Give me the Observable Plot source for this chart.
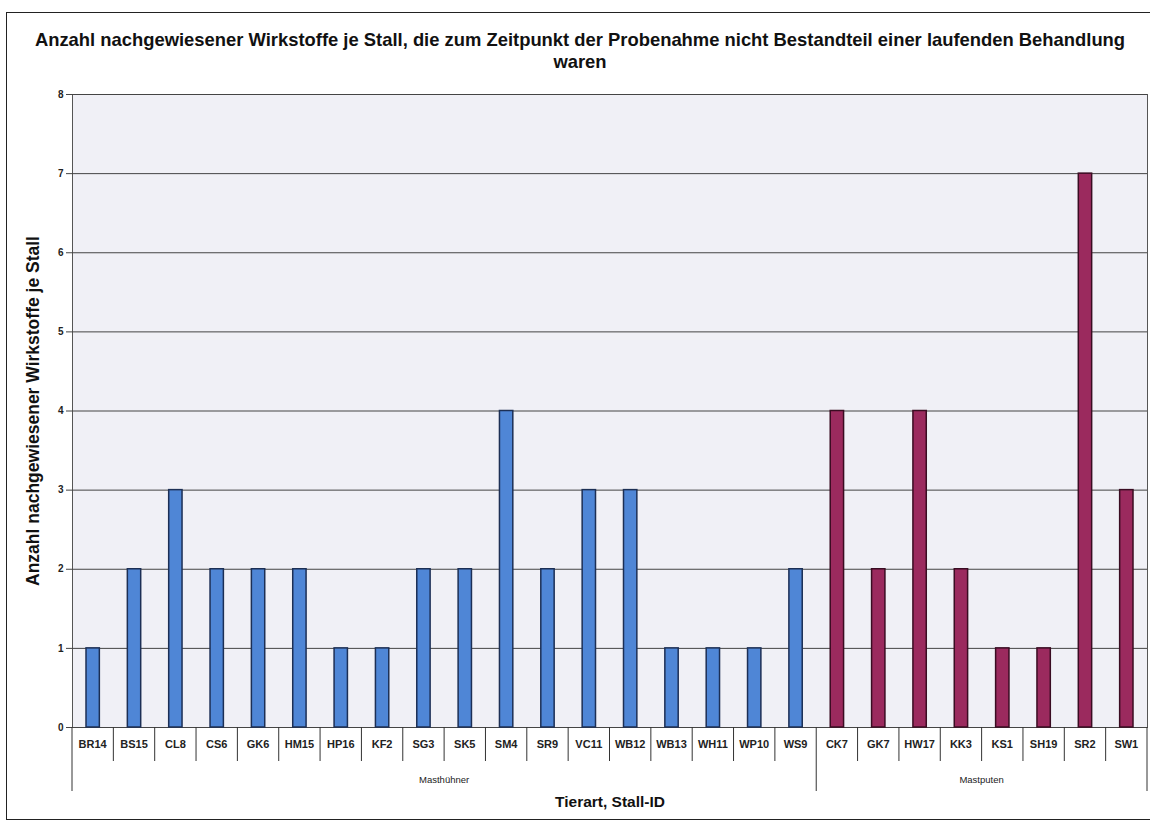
<!DOCTYPE html>
<html>
<head>
<meta charset="utf-8">
<script src="https://cdn.jsdelivr.net/npm/d3@7"></script>
<script src="https://cdn.jsdelivr.net/npm/@observablehq/plot@0.6"></script>
<style>
  html, body { margin: 0; padding: 0; background: #fff; }
  #wrap { position: relative; width: 1150px; height: 827px; overflow: hidden; font-family: "Liberation Sans", Arial, sans-serif; }
  #frame { position: absolute; left: 6px; top: 12px; width: 1160px; height: 808px; border: 1.5px solid #222; box-sizing: border-box; }
  #title { position: absolute; left: 10px; top: 29px; width: 1140px; text-align: center; font-weight: bold; font-size: 18.4px; line-height: 22px; color: #111; white-space: nowrap; }
  #chart { position: absolute; left: 0; top: 80px; }
</style>
</head>
<body>
<div id="wrap">
  <div id="frame"></div>
  <div id="title">Anzahl nachgewiesener Wirkstoffe je Stall, die zum Zeitpunkt der Probenahme nicht Bestandteil einer laufenden Behandlung<br>waren</div>
  <div id="chart"></div>
</div>
<script>
const stalls = ["BR14","BS15","CL8","CS6","GK6","HM15","HP16","KF2","SG3","SK5","SM4","SR9","VC11","WB12","WB13","WH11","WP10","WS9",
                "CK7","GK7","HW17","KK3","KS1","SH19","SR2","SW1"];
const counts = [1,2,3,2,2,2,1,1,2,2,4,2,3,3,1,1,1,2,
                4,2,4,2,1,1,7,3];
const species = ["Masthühner","Masthühner","Masthühner","Masthühner","Masthühner","Masthühner","Masthühner","Masthühner","Masthühner",
                 "Masthühner","Masthühner","Masthühner","Masthühner","Masthühner","Masthühner","Masthühner","Masthühner","Masthühner",
                 "Mastputen","Mastputen","Mastputen","Mastputen","Mastputen","Mastputen","Mastputen","Mastputen"];
const groups = ["Masthühner","Mastputen"];
const yTicks = [0,1,2,3,4,5,6,7,8];

const data = stalls.map((s, i) => ({stall: s, count: counts[i], species: species[i]}));

function bottomAxis(index, scales, values, dims) {
  const x = scales.x;
  const step = x(stalls[1]) - x(stalls[0]);
  const y0 = dims.height - dims.marginBottom;
  const g = d3.create("svg:g")
    .attr("font-family", "'Liberation Sans', Arial, sans-serif")
    .attr("fill", "#222");
  const left0 = x(stalls[0]);
  stalls.forEach((s, i) => {
    g.append("text")
      .attr("x", left0 + (i + 0.5) * step)
      .attr("y", y0 + 18)
      .attr("text-anchor", "middle")
      .attr("dominant-baseline", "middle")
      .attr("font-size", 11)
      .attr("font-weight", "bold")
      .text(s);
  });
  const boundaries = [0];
  groups.forEach(gr => boundaries.push(boundaries[boundaries.length - 1] + species.filter(d => d === gr).length));
  for (let i = 0; i <= stalls.length; i++) {
    const isGroup = boundaries.includes(i);
    g.append("line")
      .attr("x1", left0 + i * step).attr("x2", left0 + i * step)
      .attr("y1", y0).attr("y2", y0 + (isGroup ? 64 : 34))
      .attr("stroke", "#333").attr("stroke-width", 1);
  }
  groups.forEach((gr, k) => {
    const a = left0 + boundaries[k] * step, b = left0 + boundaries[k + 1] * step;
    g.append("text")
      .attr("x", (a + b) / 2)
      .attr("y", y0 + 53)
      .attr("text-anchor", "middle")
      .attr("dominant-baseline", "middle")
      .attr("font-size", 9.5)
      .text(gr);
  });
  return g.node();
}

const chart = Plot.plot({
  width: 1150,
  height: 740,
  marginTop: 14,
  marginBottom: 93,
  marginLeft: 72,
  marginRight: 3,
  style: {fontFamily: "'Liberation Sans', Arial, sans-serif", background: "transparent", overflow: "visible"},
  x: {type: "band", domain: stalls, padding: 0, round: false, axis: null},
  y: {domain: [0, 8], ticks: yTicks},
  marks: [
    Plot.frame({fill: "#f0f0f6", stroke: "#555"}),
    Plot.gridY(yTicks, {stroke: "#444", strokeOpacity: 1, strokeWidth: 1}),
    Plot.axisY(yTicks, {tickSize: 6, tickPadding: 3, fontSize: 10, fontWeight: "bold", label: null, tickFormat: d3.format("d"), stroke: "#444", fill: "#222"}),
    Plot.barY(data.filter(d => d.species === groups[0]), {x: "stall", y: "count", fill: "#4f86d6", stroke: "#1c2f55", strokeWidth: 1.5, insetLeft: 14, insetRight: 14}),
    Plot.barY(data.filter(d => d.species === groups[1]), {x: "stall", y: "count", fill: "#9b2a5e", stroke: "#3a0c22", strokeWidth: 1.5, insetLeft: 14, insetRight: 14}),
    bottomAxis,
    Plot.text(["Anzahl nachgewiesener Wirkstoffe je Stall"], {frameAnchor: "left", textAnchor: "middle", rotate: -90, dx: -39, fontSize: 17.5, fontWeight: "bold", fill: "#111"}),
    Plot.text(["Tierart, Stall-ID"], {frameAnchor: "bottom", dy: 79, fontSize: 15.5, fontWeight: "bold", fill: "#111"})
  ]
});
document.getElementById("chart").appendChild(chart);
</script>
</body>
</html>
